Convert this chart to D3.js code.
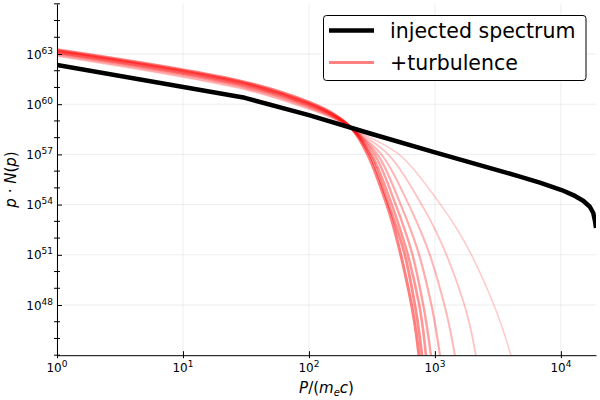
<!DOCTYPE html>
<html>
<head>
<meta charset="utf-8">
<script src="https://cdn.jsdelivr.net/npm/d3@7"></script>
<style>
body { margin: 0; background: #fff; }
text { font-family: "DejaVu Sans", sans-serif; fill: #000; }
</style>
</head>
<body>
<div class="grafico"></div>
<script>

//size of the svg
var widthSVG = 600;
var heightSVG = 400;
//plot area (pixels)
var esq = 57, dir = 596, topo = 3.8, baixo = 355.2;

//injected spectrum: momentum p and log10 of p*N(p)
var pInjected = [1, 31, 100, 316, 1000, 3281, 4732, 6808, 10139, 12531, 15031, 16982, 18072, 18707, 19000];
var nInjected = [62.35, 60.38, 59.35, 58.22, 57.12, 56.02, 55.67, 55.31, 54.87, 54.57, 54.23, 53.87, 53.50, 52.97, 52.6];

//turbulence curves, common head (same p for all curves)
var pTurbHead = [1, 31, 100, 158, 219];
var nTurbHead = [
	[63.25, 61.32, 60.12, 59.40, 58.55],
	[63.20, 61.26, 60.06, 59.36, 58.55],
	[63.14, 61.19, 60.00, 59.32, 58.55],
	[63.09, 61.13, 59.94, 59.28, 58.55],
	[63.03, 61.06, 59.88, 59.24, 58.55],
	[62.98, 61.00, 59.82, 59.20, 58.55],
	[62.92, 60.93, 59.76, 59.16, 58.55],
	[62.87, 60.87, 59.70, 59.12, 58.55]
];
//turbulence curves, tail: the p where each curve reaches these levels
var nTurbTail = [56.96, 53.97, 52.48, 50.98, 48.0, 46.5, 45.0, 44.0];
var pTurbTail = [
	[294, 416, 478, 537, 653, 704, 747, 776],
	[305, 431, 503, 578, 694, 745, 789, 819],
	[316, 456, 532, 611, 751, 806, 849, 878],
	[334, 490, 577, 665, 808, 872, 930, 969],
	[353, 537, 643, 751, 938, 1022, 1096, 1147],
	[380, 622, 764, 913, 1190, 1323, 1441, 1525],
	[431, 789, 1007, 1238, 1714, 1931, 2115, 2247],
	[527, 1116, 1514, 1956, 2939, 3477, 4010, 4411]
];

//ticks
var xTicks = [0, 1, 2, 3, 4];
var yTicks = [48, 51, 54, 57, 60, 63];
var yMinor = d3.range(45, 67);
var nomes = ["injected spectrum", "+turbulence"];

//scales
var xScale = d3.scaleLog().domain([1, 19000]).range([esq, dir]);
var yScale = d3.scaleLog().domain([1e45, 1e66]).range([baixo, topo]);

var svg = d3.select(".grafico")
	.append("svg")
	.attr("width", widthSVG)
	.attr("height", heightSVG);

svg.append("defs").append("clipPath").attr("id", "area")
	.append("rect")
	.attr("x", esq).attr("y", topo)
	.attr("width", dir - esq).attr("height", baixo - topo);

//grid
svg.append("g").selectAll("line").data(xTicks).enter().append("line")
	.attr("x1", function(d) { return xScale(Math.pow(10, d)); })
	.attr("x2", function(d) { return xScale(Math.pow(10, d)); })
	.attr("y1", topo).attr("y2", baixo)
	.attr("stroke", "#000").attr("stroke-opacity", 0.07).attr("stroke-width", 1);
svg.append("g").selectAll("line").data(yTicks).enter().append("line")
	.attr("y1", function(d) { return yScale(Math.pow(10, d)); })
	.attr("y2", function(d) { return yScale(Math.pow(10, d)); })
	.attr("x1", esq).attr("x2", dir)
	.attr("stroke", "#000").attr("stroke-opacity", 0.07).attr("stroke-width", 1);

//line generators: data as [p, log10 value]
var line = d3.line()
	.x(function(d) { return xScale(d[0]); })
	.y(function(d) { return yScale(Math.pow(10, d[1])); });
var lineSuave = d3.line()
	.x(function(d) { return xScale(d[0]); })
	.y(function(d) { return yScale(Math.pow(10, d[1])); })
	.curve(d3.curveCatmullRom.alpha(0.5));

var plot = svg.append("g").attr("clip-path", "url(#area)");

//turbulence curves, faint ones last
var alfa = d3.scaleLinear().domain([0, 7]).range([0.5, 0.2]);
var largura = d3.scaleLinear().domain([0, 7]).range([3, 1.6]);
pTurbTail.forEach(function(tail, i) {
	var pts = pTurbHead.map(function(p, j) { return [p, nTurbHead[i][j]]; })
		.concat(tail.map(function(p, j) { return [p, nTurbTail[j]]; }));
	plot.append("path")
		.datum(pts)
		.attr("class", "turb")
		.attr("d", lineSuave)
		.attr("fill", "none")
		.attr("stroke", "#ff0000")
		.attr("stroke-opacity", alfa(i))
		.attr("stroke-width", largura(i));
});

//injected spectrum
plot.append("path")
	.datum(pInjected.map(function(p, i) { return [p, nInjected[i]]; }))
	.attr("d", line)
	.attr("fill", "none")
	.attr("stroke", "#000")
	.attr("stroke-linejoin", "round")
	.attr("stroke-width", 4.5);

//axes
var x_axis = d3.axisBottom(xScale)
	.tickValues(xTicks.map(function(d) { return Math.pow(10, d); }))
	.tickFormat("").tickSizeInner(-4).tickSizeOuter(0);
var gx = svg.append("g").attr("transform", "translate(0," + baixo + ")").call(x_axis);
gx.selectAll(".tick line").attr("y1", 3);

var y_axis = d3.axisLeft(yScale)
	.tickValues(yTicks.map(function(d) { return Math.pow(10, d); }))
	.tickFormat("").tickSizeInner(-5).tickSizeOuter(0);
var gy = svg.append("g").attr("transform", "translate(" + esq + ",0)").call(y_axis);

//minor ticks on y
gy.selectAll(".minor").data(yMinor.filter(function(d) { return yTicks.indexOf(d) < 0; }))
	.enter().append("line")
	.attr("class", "minor")
	.attr("x1", -3).attr("x2", 3)
	.attr("y1", function(d) { return yScale(Math.pow(10, d)); })
	.attr("y2", function(d) { return yScale(Math.pow(10, d)); })
	.attr("stroke", "#000");

svg.selectAll(".domain").attr("stroke", "#000").attr("stroke-width", 1);

//tick labels 10^n
var xl = svg.append("g").selectAll("text").data(xTicks).enter().append("text")
	.attr("x", function(d) { return xScale(Math.pow(10, d)); })
	.attr("y", 372)
	.attr("text-anchor", "middle")
	.style("font-size", "12px");
xl.append("tspan").text("10");
xl.append("tspan").attr("dy", -5).style("font-size", "9px").text(function(d) { return d; });

var yl = svg.append("g").selectAll("text").data(yTicks).enter().append("text")
	.attr("x", 53)
	.attr("y", function(d) { return yScale(Math.pow(10, d)) + 4.5; })
	.attr("text-anchor", "end")
	.style("font-size", "12px");
yl.append("tspan").text("10");
yl.append("tspan").attr("dy", -5).style("font-size", "9px").text(function(d) { return d; });

//axis titles
var xt = svg.append("text")
	.attr("x", (esq + dir) / 2)
	.attr("y", 393)
	.attr("text-anchor", "middle")
	.style("font-size", "15px");
xt.append("tspan").style("font-style", "italic").text("P");
xt.append("tspan").text("/(");
xt.append("tspan").style("font-style", "italic").text("m");
xt.append("tspan").style("font-style", "italic").style("font-size", "10px").attr("dy", 3).text("e");
xt.append("tspan").style("font-style", "italic").attr("dy", -3).text("c");
xt.append("tspan").text(")");

var yt = svg.append("text")
	.attr("text-anchor", "middle")
	.attr("transform", "translate(16," + ((topo + baixo) / 2) + ") rotate(-90)")
	.style("font-size", "15px");
yt.append("tspan").style("font-style", "italic").text("p");
yt.append("tspan").text(" · ");
yt.append("tspan").style("font-style", "italic").text("N");
yt.append("tspan").text("(");
yt.append("tspan").style("font-style", "italic").text("p");
yt.append("tspan").text(")");

//legend
var legenda = svg.append("g");
legenda.append("rect")
	.attr("x", 323.5).attr("y", 15.5)
	.attr("width", 262.5).attr("height", 65)
	.attr("rx", 3)
	.attr("fill", "#fff")
	.attr("stroke", "#000");
var cor = ["#000", "#ff8080"];
var esp = [4.5, 3];
var itens = legenda.selectAll(".legendas").data(nomes).enter().append("g")
	.classed("legendas", true)
	.attr("transform", function(d, i) { return "translate(329," + (30.5 + i * 32) + ")"; });
itens.append("line")
	.attr("x1", 0).attr("x2", 45)
	.attr("stroke", function(d, i) { return cor[i]; })
	.attr("stroke-width", function(d, i) { return esp[i]; });
itens.append("text")
	.attr("x", 61).attr("y", 7)
	.style("font-size", "20.5px")
	.text(function(d) { return d; });

</script>
</body>
</html>
